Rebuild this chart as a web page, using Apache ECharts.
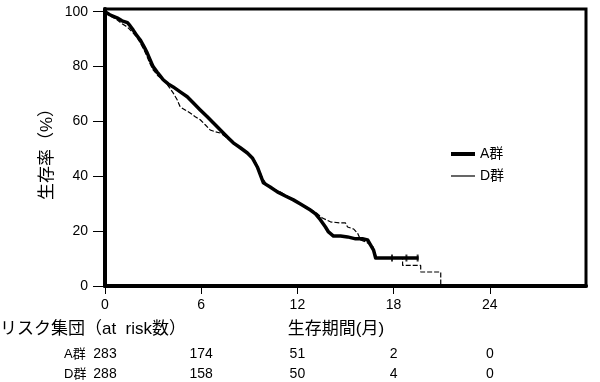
<!DOCTYPE html>
<html><head><meta charset="utf-8">
<script src="https://cdn.jsdelivr.net/npm/echarts@6/dist/echarts.min.js"></script>
<style>html,body{margin:0;padding:0;background:#fff}#c{width:600px;height:382px}</style>
</head><body><div id="c"></div>
<script>
const FONT = '"Liberation Sans", "Noto Sans CJK JP", sans-serif';
const seriesNames = ['A群', 'D群'];
const timesA = [0,0.3,0.75,1.06,1.4,1.56,1.75,2.0,2.19,2.44,2.63,2.81,3.0,3.25,3.44,3.63,3.94,4.25,4.69,5.13,5.5,5.94,6.38,6.75,7.06,7.38,7.69,8.0,8.44,8.88,9.19,9.5,9.69,9.88,10.3,10.75,11.25,11.75,12.19,12.5,12.81,13.13,13.44,13.75,13.94,14.25,14.69,15.13,15.63,16.06,16.38,16.56,16.75,16.88,18.13,19.56];
const survA  = [100,98.9,97.8,96.7,96,94.9,93.4,91.2,89.8,87.2,85,82.5,80,78,76.6,75.2,73.7,72.6,70.8,69,66.8,64.2,61.7,59.5,57.7,55.8,54,52.2,50.4,48.5,46.7,43.4,40.5,37.6,36.1,34.3,32.8,31.4,29.9,28.8,27.7,26.3,24.1,21.5,19.7,18.2,18.2,17.9,17.2,17.2,16.8,15,13.1,10.2,10.2,10.2];
const timesD = [0,0.3,0.75,1.06,1.38,1.75,2.0,2.19,2.44,2.63,2.81,3.0,3.31,3.63,3.94,4.25,4.5,4.69,5.0,5.31,5.63,5.94,6.25,6.56,6.88,7.19,7.69,8.13,8.56,9.0,9.31,9.56,9.81,10.06,10.5,10.94,11.44,11.88,12.31,12.81,13.19,13.56,14.06,14.69,15.0,15.13,15.5,15.75,15.94,16.25,16.69,16.94,18.56,18.56,19.69,19.69,20.94,20.94];
const survD  = [100,98.5,97.1,95.6,94.5,92.3,90.5,88.7,86.1,83.6,81,78.8,76.6,75.2,73,70.4,67.9,65.3,64.2,63.1,61.7,60.6,58.8,56.9,56.2,55.8,53.6,51.8,50,48.2,46,43.1,39.4,37.2,35.4,34.3,32.5,31,29.6,28.1,26.6,24.8,23.4,23,23,21.5,20.8,19.3,16.8,16.1,14.6,10.2,10.2,7.5,7.5,5.1,5.1,0];
const censorTimesA = [17.9, 18.8, 19.5];
const censorSurvA = [10.2, 10.2, 10.2];
const xTicks = [0, 6, 12, 18, 24];
const yTicks = [0, 20, 40, 60, 80, 100];
const riskA = [283, 174, 51, 2, 0];
const riskD = [288, 158, 50, 4, 0];
const yTitle = '生存率（%）';
const riskTitle = 'リスク集団（at  risk数）';
const xTitle = '生存期間(月)';

const chart = echarts.init(document.getElementById('c'));
const zip = (t, s) => t.map((v, i) => [v, s[i]]);
const legendBase = {
  orient: 'vertical', left: 446, itemWidth: 24, itemGap: 8, icon: 'rect',
  textStyle: { fontSize: 14, color: '#000', fontFamily: FONT }
};
chart.setOption({
  animation: false,
  textStyle: { fontFamily: FONT, color: '#000' },
  grid: { left: 105, right: 14, top: 9, bottom: 96, show: true, borderColor: '#000', borderWidth: 3, backgroundColor: 'transparent' },
  xAxis: {
    type: 'value', min: 0, max: 30, interval: 6,
    axisLine: { lineStyle: { color: '#000', width: 4 } },
    axisTick: { customValues: xTicks, length: 8, lineStyle: { color: '#000', width: 1 } },
    axisLabel: { customValues: xTicks, margin: 12, color: '#000', fontSize: 14, fontFamily: FONT },
    splitLine: { show: false }
  },
  yAxis: {
    type: 'value', min: 0, max: 101, interval: 20,
    axisLine: { lineStyle: { color: '#000', width: 4 } },
    axisTick: { customValues: yTicks, length: 12, lineStyle: { color: '#000', width: 1 } },
    axisLabel: { customValues: yTicks, margin: 17, color: '#000', fontSize: 14, fontFamily: FONT },
    splitLine: { show: false }
  },
  legend: [
    Object.assign({}, legendBase, { top: 142, itemHeight: 4, data: [seriesNames[0]] }),
    Object.assign({}, legendBase, { top: 164, itemHeight: 1.2, data: [seriesNames[1]] })
  ],
  series: [
    { name: seriesNames[1], type: 'line', symbol: 'none', data: zip(timesD, survD), z: 2,
      lineStyle: { color: '#000', width: 1.2, type: [5, 2] }, itemStyle: { color: '#000' } },
    { name: seriesNames[0], type: 'line', symbol: 'none', data: zip(timesA, survA), z: 3,
      lineStyle: { color: '#000', width: 3.5, join: 'round' }, itemStyle: { color: '#000' } },
    { name: 'censorA', type: 'scatter', symbol: 'rect', symbolSize: [2, 7], data: zip(censorTimesA, censorSurvA), z: 4,
      itemStyle: { color: '#000' } }
  ]
});

const g = [];
g.push({ type: 'text', x: 47, y: 150, rotation: Math.PI / 2,
  style: { text: yTitle, font: '17px ' + FONT, fill: '#000', align: 'center', verticalAlign: 'middle' } });
g.push({ type: 'text', x: 0, y: 329,
  style: { text: riskTitle, font: '17px ' + FONT, fill: '#000', align: 'left', verticalAlign: 'middle' } });
g.push({ type: 'text', x: 336, y: 329,
  style: { text: xTitle, font: '17px ' + FONT, fill: '#000', align: 'center', verticalAlign: 'middle' } });
g.push({ type: 'text', x: 64, y: 354,
  style: { text: seriesNames[0], font: '13px ' + FONT, fill: '#000', align: 'left', verticalAlign: 'middle' } });
g.push({ type: 'text', x: 64, y: 374,
  style: { text: seriesNames[1], font: '13px ' + FONT, fill: '#000', align: 'left', verticalAlign: 'middle' } });
xTicks.forEach((t, i) => {
  const px = chart.convertToPixel({ xAxisIndex: 0 }, t);
  g.push({ type: 'text', x: px, y: 354,
    style: { text: String(riskA[i]), font: '14px ' + FONT, fill: '#000', align: 'center', verticalAlign: 'middle' } });
  g.push({ type: 'text', x: px, y: 374,
    style: { text: String(riskD[i]), font: '14px ' + FONT, fill: '#000', align: 'center', verticalAlign: 'middle' } });
});
chart.setOption({ graphic: g });
</script></body></html>
